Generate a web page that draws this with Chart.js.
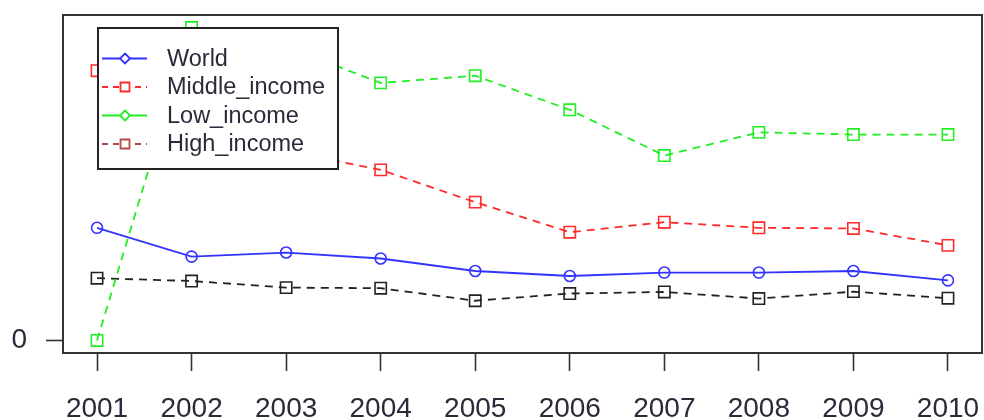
<!DOCTYPE html>
<html>
<head>
<meta charset="utf-8">
<script src="https://cdn.jsdelivr.net/npm/chart.js@4.4.1/dist/chart.umd.min.js"></script>
<style>
  html, body { margin: 0; padding: 0; background: #ffffff; }
  #wrap { width: 984px; height: 420px; position: relative; }
</style>
</head>
<body>
<div id="wrap"><canvas id="chart" width="984" height="420"></canvas></div>
<script>
// Yearly series, one array per income group
const years = [2001, 2002, 2003, 2004, 2005, 2006, 2007, 2008, 2009, 2010];
const world        = [36.0, 26.8, 28.1, 26.2, 22.2, 20.6, 21.7, 21.7, 22.2, 19.2];
const middleIncome = [86.2, 73.1, 60.6, 54.5, 44.2, 34.6, 37.8, 36.0, 35.8, 30.4];
const lowIncome    = [0.0, 100.0, 93.8, 82.3, 84.6, 73.7, 59.1, 66.5, 65.8, 65.8];
const highIncome   = [19.9, 19.0, 16.9, 16.7, 12.7, 15.0, 15.5, 13.4, 15.6, 13.5];
const yTickValues  = [0];
const seriesNames  = ['World', 'Middle_income', 'Low_income', 'High_income'];

const FONT = '"Liberation Sans", Arial, sans-serif';
const AXIS_COLOR = '#333333';

function pts(values) {
  return years.map((y, i) => ({ x: y, y: values[i] }));
}

// Keep the plotting region fixed: no extra room for edge labels
function noEdgePadding(scale) {
  scale.paddingTop = 0;
  scale.paddingBottom = 0;
  scale.paddingLeft = 0;
  scale.paddingRight = 0;
}

// Frame around the plotting region
const boxPlugin = {
  id: 'plotBox',
  afterDraw(chart) {
    const { ctx, chartArea: a } = chart;
    ctx.save();
    ctx.strokeStyle = AXIS_COLOR;
    ctx.lineWidth = 2;
    ctx.strokeRect(a.left, a.top, a.right - a.left, a.bottom - a.top);
    ctx.restore();
  }
};

// Boxed key in the upper-left corner
const keyPlugin = {
  id: 'keyBox',
  afterDraw(chart) {
    const ctx = chart.ctx;
    const entries = [
      { name: seriesNames[0], color: '#3333ff', dash: [], marker: 'diamond' },
      { name: seriesNames[1], color: '#ff2a2a', dash: [6, 5], marker: 'square' },
      { name: seriesNames[2], color: '#22ee22', dash: [], marker: 'diamond' },
      { name: seriesNames[3], color: '#b04a4a', dash: [6, 5], marker: 'square' }
    ];
    const left = 98, top = 28, right = 338, bottom = 169;
    ctx.save();
    ctx.fillStyle = '#ffffff';
    ctx.fillRect(left, top, right - left, bottom - top);
    ctx.strokeStyle = '#222222';
    ctx.lineWidth = 2;
    ctx.strokeRect(left, top, right - left, bottom - top);
    ctx.font = '23.5px ' + FONT;
    ctx.textBaseline = 'middle';
    ctx.textAlign = 'left';
    entries.forEach((e, i) => {
      const y = 58.5 + i * 28.5;
      ctx.strokeStyle = e.color;
      ctx.lineWidth = 1.8;
      ctx.setLineDash(e.dash);
      ctx.beginPath();
      ctx.moveTo(102, y);
      ctx.lineTo(147, y);
      ctx.stroke();
      ctx.setLineDash([]);
      ctx.fillStyle = '#ffffff';
      ctx.beginPath();
      if (e.marker === 'diamond') {
        ctx.moveTo(125, y - 5);
        ctx.lineTo(130, y);
        ctx.lineTo(125, y + 5);
        ctx.lineTo(120, y);
        ctx.closePath();
      } else {
        ctx.rect(120.5, y - 4.5, 9, 9);
      }
      ctx.fill();
      ctx.stroke();
      ctx.fillStyle = '#2a2a3a';
      ctx.fillText(e.name, 167, y + 1);
    });
    ctx.restore();
  }
};

const lineBase = {
  fill: false,
  tension: 0,
  borderWidth: 1.8,
  pointBackgroundColor: 'rgba(0,0,0,0)',
  pointBorderWidth: 1.6,
  pointHoverRadius: 0
};

new Chart(document.getElementById('chart'), {
  type: 'line',
  data: {
    datasets: [
      Object.assign({}, lineBase, {
        label: seriesNames[0], data: pts(world),
        borderColor: '#3333ff', pointBorderColor: '#3333ff',
        pointStyle: 'circle', pointRadius: 5.5, borderDash: []
      }),
      Object.assign({}, lineBase, {
        label: seriesNames[1], data: pts(middleIncome),
        borderColor: '#ff2a2a', pointBorderColor: '#ff2a2a',
        pointStyle: 'rect', pointRadius: 8, borderDash: [8, 6]
      }),
      Object.assign({}, lineBase, {
        label: seriesNames[2], data: pts(lowIncome),
        borderColor: '#22ee22', pointBorderColor: '#22ee22',
        pointStyle: 'rect', pointRadius: 8, borderDash: [8, 6]
      }),
      Object.assign({}, lineBase, {
        label: seriesNames[3], data: pts(highIncome),
        borderColor: '#222222', pointBorderColor: '#222222',
        pointStyle: 'rect', pointRadius: 8, borderDash: [8, 6]
      })
    ]
  },
  options: {
    responsive: false,
    animation: false,
    events: [],
    layout: { autoPadding: false, padding: { left: 0, top: 15, right: 2, bottom: 0 } },
    plugins: {
      legend: { display: false },
      tooltip: { enabled: false }
    },
    scales: {
      x: {
        type: 'linear',
        min: 2000.64,
        max: 2010.36,
        afterBuildTicks(scale) { scale.ticks = years.map(v => ({ value: v })); },
        afterFit(scale) { scale.height = 67; noEdgePadding(scale); },
        grid: {
          drawOnChartArea: false,
          drawTicks: true,
          tickLength: 18,
          tickWidth: 1.6,
          tickColor: AXIS_COLOR
        },
        border: { display: false },
        ticks: {
          color: '#2a2a3a',
          font: { family: FONT, size: 28 },
          padding: 21,
          maxRotation: 0,
          autoSkip: false,
          callback: v => String(v)
        }
      },
      y: {
        type: 'linear',
        min: -4,
        max: 104,
        afterBuildTicks(scale) { scale.ticks = yTickValues.map(v => ({ value: v })); },
        afterFit(scale) { scale.width = 63; noEdgePadding(scale); },
        grid: {
          drawOnChartArea: false,
          drawTicks: true,
          tickLength: 17,
          tickWidth: 1.6,
          tickColor: AXIS_COLOR
        },
        border: { display: false },
        ticks: {
          color: '#2a2a3a',
          font: { family: FONT, size: 28 },
          padding: 19,
          callback: v => String(v)
        }
      }
    }
  },
  plugins: [boxPlugin, keyPlugin]
});
</script>
</body>
</html>
